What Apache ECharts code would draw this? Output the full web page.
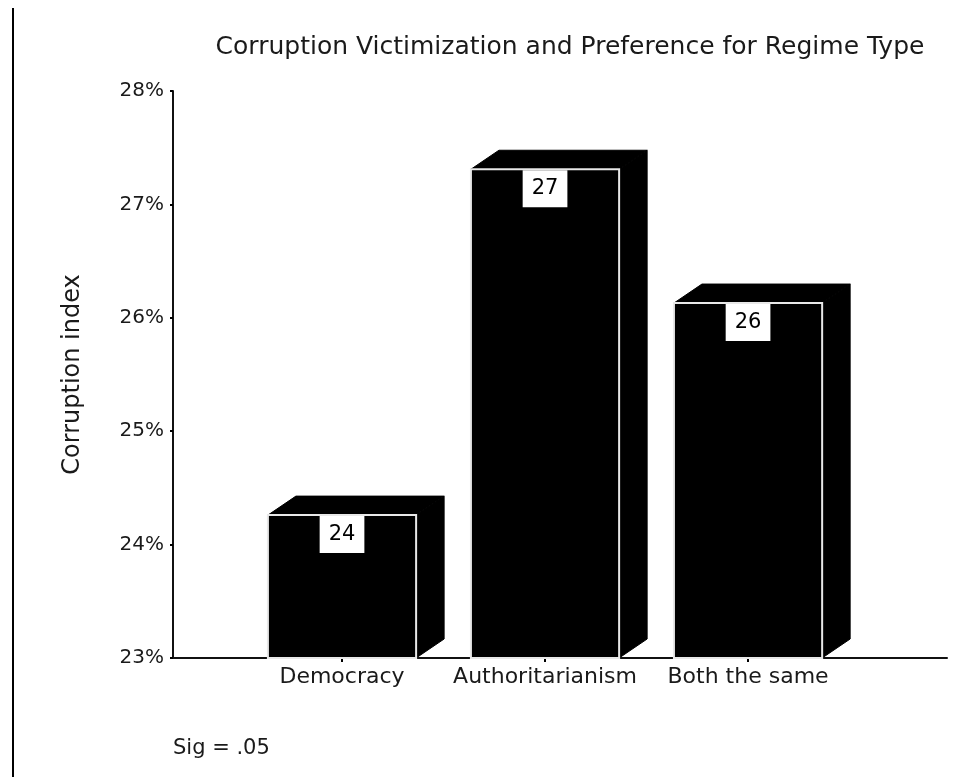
<!DOCTYPE html>
<html>
<head>
<meta charset="utf-8">
<script src="https://cdn.jsdelivr.net/npm/echarts@6/dist/echarts.min.js"></script>
<style>
  html, body { margin: 0; padding: 0; background: #fff; }
  #chart { width: 974px; height: 777px; }
</style>
</head>
<body>
<div id="chart"></div>
<script>
// values
const categories = ['Democracy', 'Authoritarianism', 'Both the same'];
const corruption = [24.26, 27.31, 26.13];
const yTicks = [23, 24, 25, 26, 27, 28];

const FONT = 'DejaVu Sans';
const TEXT = '#1a1a1a';
const BAR_W = 0.73;   // bar width in x units
const DEPTH_X = 28;
const DEPTH_Y = 19;

const barData = categories.map((c, i) => [i + 1, corruption[i]]);

function renderBar(params, api) {
  const x = api.value(0);
  const v = api.value(1);
  const tl = api.coord([x - BAR_W / 2, v]);
  const br = api.coord([x + BAR_W / 2, yTicks[0]]);
  const x1 = tl[0], x2 = br[0], yt = tl[1], yb = br[1];
  const cx = (x1 + x2) / 2;
  return {
    type: 'group',
    children: [
      {
        type: 'polygon',
        shape: {points: [[x1, yt], [x1 + DEPTH_X, yt - DEPTH_Y], [x2 + DEPTH_X, yt - DEPTH_Y], [x2, yt]]},
        style: {fill: '#000', stroke: '#000', lineWidth: 1}
      },
      {
        type: 'polygon',
        shape: {points: [[x2, yt], [x2 + DEPTH_X, yt - DEPTH_Y], [x2 + DEPTH_X, yb - DEPTH_Y], [x2, yb]]},
        style: {fill: '#000', stroke: '#000', lineWidth: 1}
      },
      {
        type: 'rect',
        shape: {x: x1, y: yt, width: x2 - x1, height: yb - yt},
        style: {fill: '#000', stroke: '#e8e8e8', lineWidth: 2}
      },
      {
        type: 'text',
        x: cx,
        y: yt + 1,
        style: {
          text: String(Math.round(v)),
          font: '21px "' + FONT + '"',
          fill: '#000',
          align: 'center',
          verticalAlign: 'top',
          backgroundColor: '#fff',
          padding: [8, 9, 8, 9]
        }
      }
    ]
  };
}

const chart = echarts.init(document.getElementById('chart'));

chart.setOption({
  animation: false,
  backgroundColor: '#fff',
  textStyle: {fontFamily: FONT, color: TEXT},
  grid: {left: 173, right: 27, top: 91, bottom: 119},
  xAxis: {
    type: 'value',
    min: 0.1675,
    max: 3.98,
    splitLine: {show: false},
    axisLine: {onZero: false, lineStyle: {color: '#111', width: 2}},
    axisTick: {show: true, customValues: [1, 2, 3], length: 4, lineStyle: {color: '#000', width: 2}},
    axisLabel: {
      customValues: [1, 2, 3],
      formatter: v => categories[Math.round(v) - 1],
      fontSize: 22,
      color: TEXT,
      margin: 8
    }
  },
  yAxis: {
    type: 'value',
    min: yTicks[0],
    max: yTicks[yTicks.length - 1],
    interval: 1,
    name: 'Corruption index',
    nameLocation: 'middle',
    nameRotate: 90,
    nameGap: 88,
    nameTextStyle: {fontSize: 24, color: TEXT},
    splitLine: {show: false},
    axisLine: {show: true, onZero: false, lineStyle: {color: '#111', width: 2}},
    axisTick: {show: true, length: 3, lineStyle: {color: '#000', width: 2}},
    axisLabel: {formatter: v => v + '%', fontSize: 20, color: TEXT, margin: 9}
  },
  series: [{
    type: 'custom',
    renderItem: renderBar,
    data: barData,
    clip: false
  }],
  graphic: [
    {
      type: 'line',
      shape: {x1: 13, y1: 8, x2: 13, y2: 777},
      style: {stroke: '#000', lineWidth: 2}
    },
    {
      type: 'text',
      x: 570,
      y: 47,
      style: {
        text: 'Corruption Victimization and Preference for Regime Type',
        font: '25px "' + FONT + '"',
        fill: TEXT,
        align: 'center',
        verticalAlign: 'middle'
      }
    },
    {
      type: 'text',
      x: 173,
      y: 749,
      style: {
        text: 'Sig = .05',
        font: '21px "' + FONT + '"',
        fill: TEXT,
        align: 'left',
        verticalAlign: 'middle'
      }
    }
  ]
});
</script>
</body>
</html>
